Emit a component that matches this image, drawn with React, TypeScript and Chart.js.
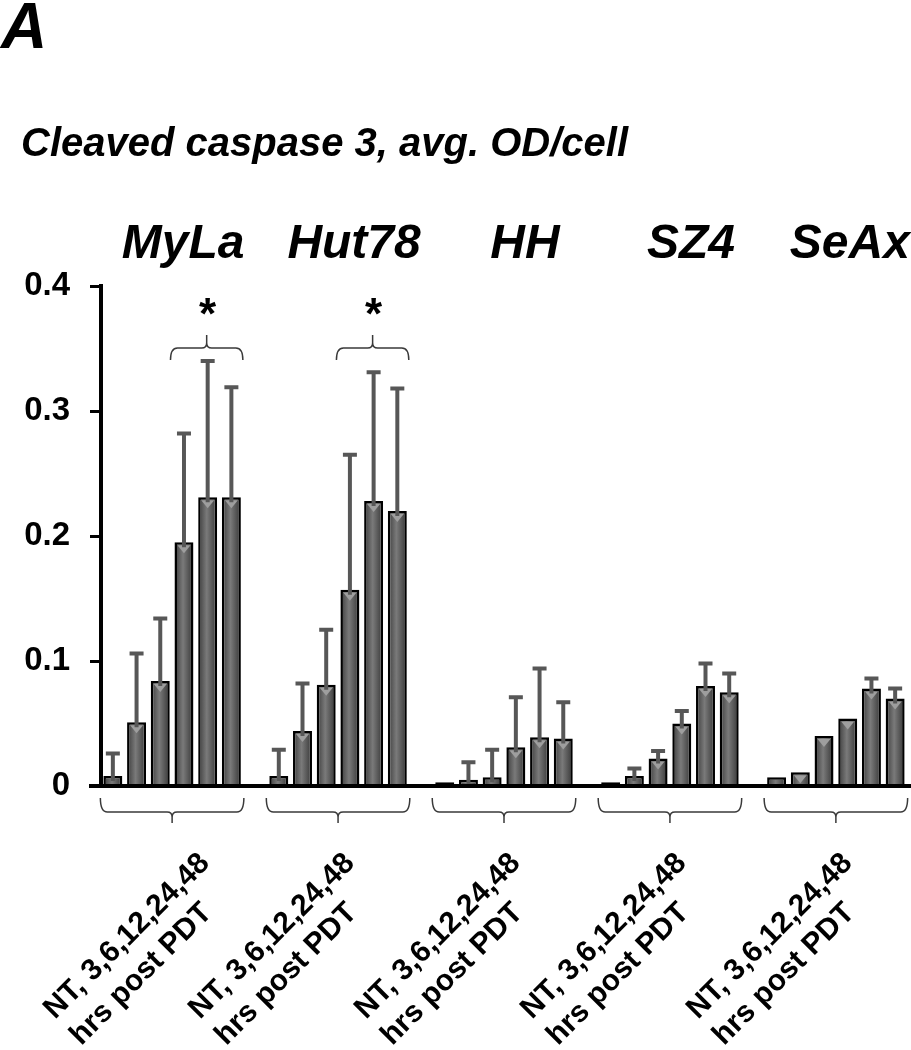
import React, { useEffect, useRef } from 'react';
import { Chart, registerables } from 'chart.js';

Chart.register(...registerables);

const FONT = '"Liberation Sans", Arial, Helvetica, sans-serif';

const panelLetter = 'A';
const chartTitle = 'Cleaved caspase 3, avg. OD/cell';
const groups = ['MyLa', 'Hut78', 'HH', 'SZ4', 'SeAx'];
const timepoints = ['NT', '3', '6', '12', '24', '48'];
const timeLabelLine1 = 'NT, 3,6,12,24,48';
const timeLabelLine2 = 'hrs post PDT';
const yTicks = [0, 0.1, 0.2, 0.3, 0.4];

const mylaMean = [0.008, 0.051, 0.084, 0.195, 0.231, 0.231];
const mylaErr = [0.018, 0.055, 0.050, 0.087, 0.109, 0.088];
const hut78Mean = [0.008, 0.044, 0.081, 0.157, 0.228, 0.220];
const hut78Err = [0.021, 0.038, 0.044, 0.108, 0.103, 0.098];
const hhMean = [0.003, 0.005, 0.007, 0.031, 0.039, 0.038];
const hhErr = [0, 0.014, 0.022, 0.040, 0.055, 0.029];
const sz4Mean = [0.003, 0.008, 0.022, 0.050, 0.080, 0.075];
const sz4Err = [0, 0.006, 0.006, 0.010, 0.018, 0.015];
const seaxMean = [0.007, 0.011, 0.040, 0.054, 0.078, 0.070];
const seaxErr = [0, 0, 0, 0, 0.008, 0.008];

const significantGroups = [0, 1];
const significantFrom = 3;
const significantTo = 5;

const groupMeans = [mylaMean, hut78Mean, hhMean, sz4Mean, seaxMean];
const groupErrs = [mylaErr, hut78Err, hhErr, sz4Err, seaxErr];

const labels: string[] = [];
const values: (number | null)[] = [];
const errors: number[] = [];
groups.forEach((g, gi) => {
  timepoints.forEach((t, ti) => {
    labels.push(`${g} ${t}`);
    values.push(groupMeans[gi][ti]);
    errors.push(groupErrs[gi][ti]);
  });
  if (gi < groups.length - 1) {
    labels.push('');
    values.push(null);
    errors.push(0);
  }
});
const slotsPerGroup = timepoints.length + 1;

const decorPlugin = {
  id: 'decor',
  afterDatasetsDraw(chart: any) {
    const ctx: CanvasRenderingContext2D = chart.ctx;
    const meta = chart.getDatasetMeta(0);
    const els: any[] = meta.data;
    const ys = chart.scales.y;
    const area = chart.chartArea;
    const y0 = ys.getPixelForValue(0);
    ctx.save();

    // bar top chevrons
    els.forEach((el, i) => {
      if (values[i] == null) return;
      const h = el.base - el.y;
      if (h > 12) {
        ctx.fillStyle = '#9e9e9e';
        ctx.beginPath();
        ctx.moveTo(el.x - 6.5, el.y + 3);
        ctx.lineTo(el.x + 6.5, el.y + 3);
        ctx.lineTo(el.x, el.y + 11);
        ctx.closePath();
        ctx.fill();
      }
    });

    // error bars (upper)
    ctx.strokeStyle = '#575757';
    ctx.fillStyle = '#575757';
    ctx.lineWidth = 4;
    els.forEach((el, i) => {
      const v = values[i];
      const e = errors[i];
      if (v == null || !e) return;
      const yTop = ys.getPixelForValue(v + e);
      ctx.beginPath();
      ctx.moveTo(el.x, el.y + 5);
      ctx.lineTo(el.x, yTop);
      ctx.stroke();
      ctx.fillRect(el.x - 7, yTop - 2, 14, 4);
    });

    // baseline
    ctx.fillStyle = '#000';
    ctx.fillRect(area.left - 12, y0 - 2, chart.width - (area.left - 12), 4);

    // group braces below axis
    ctx.strokeStyle = '#3a3a3a';
    ctx.lineWidth = 1.5;
    groups.forEach((g, gi) => {
      const first = els[gi * slotsPerGroup];
      const last = els[gi * slotsPerGroup + timepoints.length - 1];
      const w = first.width;
      const x1 = first.x - w / 2 - 3;
      const x2 = last.x + w / 2 + 3;
      const cx = (first.x + last.x) / 2;
      const yEnd = y0 + 12;
      const yH = y0 + 26;
      const yTip = y0 + 37;
      ctx.beginPath();
      ctx.moveTo(x1, yEnd);
      ctx.quadraticCurveTo(x1, yH, x1 + 7, yH);
      ctx.lineTo(cx - 5, yH);
      ctx.quadraticCurveTo(cx, yH, cx, yH + 5);
      ctx.lineTo(cx, yTip);
      ctx.moveTo(cx, yH + 5);
      ctx.quadraticCurveTo(cx, yH, cx + 5, yH);
      ctx.lineTo(x2 - 7, yH);
      ctx.quadraticCurveTo(x2, yH, x2, yEnd);
      ctx.stroke();
    });

    // significance braces + asterisks
    significantGroups.forEach((gi) => {
      const a = els[gi * slotsPerGroup + significantFrom];
      const b = els[gi * slotsPerGroup + significantTo];
      const w = a.width;
      const x1 = a.x - w / 2 - 4;
      const x2 = b.x + w / 2 + 2;
      const cx = (x1 + x2) / 2;
      const yH = area.top + 62;
      const yEnd = yH + 12;
      const yTip = yH - 13;
      ctx.strokeStyle = '#3a3a3a';
      ctx.lineWidth = 1.5;
      ctx.beginPath();
      ctx.moveTo(x1, yEnd);
      ctx.quadraticCurveTo(x1, yH, x1 + 7, yH);
      ctx.lineTo(cx - 5, yH);
      ctx.quadraticCurveTo(cx, yH, cx, yH - 5);
      ctx.lineTo(cx, yTip);
      ctx.moveTo(cx, yH - 5);
      ctx.quadraticCurveTo(cx, yH, cx + 5, yH);
      ctx.lineTo(x2 - 7, yH);
      ctx.quadraticCurveTo(x2, yH, x2, yEnd);
      ctx.stroke();
      ctx.fillStyle = '#000';
      ctx.font = `bold 44px ${FONT}`;
      ctx.textAlign = 'center';
      ctx.textBaseline = 'alphabetic';
      ctx.fillText('*', cx + 1, area.top + 43);
    });

    // group names
    ctx.fillStyle = '#000';
    ctx.font = `italic bold 48px ${FONT}`;
    ctx.textAlign = 'center';
    ctx.textBaseline = 'alphabetic';
    const nameShift = [11, 16, 21, 21, 14];
    groups.forEach((g, gi) => {
      const first = els[gi * slotsPerGroup];
      const last = els[gi * slotsPerGroup + timepoints.length - 1];
      const cx = (first.x + last.x) / 2;
      ctx.fillText(g, cx + nameShift[gi], 258);
    });

    // rotated time labels
    ctx.font = `bold 30px ${FONT}`;
    ctx.textAlign = 'left';
    groups.forEach((g, gi) => {
      const first = els[gi * slotsPerGroup];
      const last = els[gi * slotsPerGroup + timepoints.length - 1];
      const cx = (first.x + last.x) / 2;
      const sx = cx - (gi === 0 ? 117 : 138);
      const sy = 1020;
      ctx.save();
      ctx.translate(sx, sy);
      ctx.rotate(-Math.PI / 4);
      ctx.fillText(timeLabelLine1, 0, 0);
      ctx.fillText(timeLabelLine2, 0, 37);
      ctx.restore();
    });

    // title and panel letter
    ctx.font = `italic bold 40px ${FONT}`;
    ctx.textAlign = 'left';
    ctx.fillText(chartTitle, 21, 156);
    ctx.font = `italic bold 64px ${FONT}`;
    ctx.fillText(panelLetter, 1, 48);

    ctx.restore();
  },
};

export default function App() {
  const ref = useRef<HTMLCanvasElement | null>(null);
  useEffect(() => {
    if (!ref.current) return;
    const chart = new Chart(ref.current, {
      type: 'bar',
      data: {
        labels,
        datasets: [
          {
            data: values as any,
            backgroundColor: (c: any) => {
              const ch = c.chart;
              const xs = ch.scales && ch.scales.x;
              if (!xs || !ch.chartArea || c.dataIndex == null) return '#5a5a5a';
              const x = xs.getPixelForValue(c.dataIndex);
              const w = (xs.width / labels.length) * 0.8;
              const g = ch.ctx.createLinearGradient(x - w / 2, 0, x + w / 2, 0);
              g.addColorStop(0, '#3c3c3c');
              g.addColorStop(0.45, '#7a7a7a');
              g.addColorStop(1, '#363636');
              return g;
            },
            borderColor: '#000',
            borderWidth: 2.5,
            barPercentage: 0.8,
            categoryPercentage: 1,
          },
        ],
      },
      options: {
        responsive: false,
        maintainAspectRatio: false,
        animation: false,
        layout: { padding: { top: 286, bottom: 264, left: 0, right: 4 } },
        plugins: {
          legend: { display: false },
          tooltip: { enabled: false },
          title: { display: false },
        },
        scales: {
          x: {
            type: 'category',
            display: false,
            offset: true,
            grid: { display: false },
          },
          y: {
            min: 0,
            max: 0.4,
            afterFit: (s: any) => {
              s.width = 101;
            },
            afterBuildTicks: (s: any) => {
              s.ticks = yTicks.map((v) => ({ value: v }));
            },
            ticks: {
              callback: (v: any) => (Number(v) === 0 ? '0' : Number(v).toFixed(1)),
              font: { family: FONT, size: 33, weight: 'bold' },
              color: '#000',
              padding: 20,
            },
            grid: {
              drawOnChartArea: false,
              drawTicks: true,
              tickLength: 11,
              tickWidth: 3,
              tickColor: '#000',
            },
            border: { display: true, color: '#000', width: 4 },
          },
        },
      } as any,
      plugins: [decorPlugin],
    });
    return () => chart.destroy();
  }, []);
  return (
    <div style={{ position: 'fixed', left: 0, top: 0, width: 911, height: 1050, background: '#fff' }}>
      <canvas ref={ref} width={911} height={1050} style={{ display: 'block', width: 911, height: 1050 }} />
    </div>
  );
}
